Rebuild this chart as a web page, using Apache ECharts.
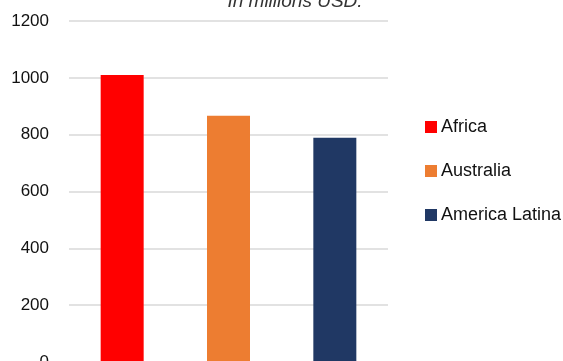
<!DOCTYPE html>
<html>
<head>
<meta charset="utf-8">
<script src="https://cdn.jsdelivr.net/npm/echarts@6/dist/echarts.min.js"></script>
<style>
html,body{margin:0;padding:0;background:#fff;}
#chart{width:563px;height:361px;}
</style>
</head>
<body>
<div id="chart"></div>
<script>
const categories = ["Africa", "Australia", "America Latina"];
const values = [1010, 867, 789];
const colors = ["#ff0000", "#ed7d31", "#203864"];
const yTicks = [0, 200, 400, 600, 800, 1000, 1200];
const titleText = "In millions USD.";

const chart = echarts.init(document.getElementById('chart'), null, {renderer: 'canvas'});
const series = categories.map((name, i) => ({
  name: name,
  type: 'bar',
  stack: 'total',
  barWidth: 43,
  itemStyle: {color: colors[i]},
  data: categories.map((c, j) => j === i ? values[i] : '-')
}));
chart.setOption({
  animation: false,
  title: {
    text: titleText,
    left: 290, top: -13,
    textAlign: 'center',
    textStyle: {fontFamily: 'Liberation Sans', fontStyle: 'italic', fontWeight: 'normal', fontSize: 19, color: '#333'}
  },
  grid: {left: 69, width: 319, top: 21, height: 341, containLabel: false, outerBoundsMode: 'none'},
  legend: {
    orient: 'vertical',
    left: 425, top: 118, padding: 0,
    itemWidth: 12, itemHeight: 12, itemGap: 26,
    icon: 'rect',
    textStyle: {fontFamily: 'Liberation Sans', fontSize: 18, color: '#111', lineHeight: 18, padding: [0,0,0,-1]},
    data: categories
  },
  xAxis: {
    type: 'category',
    data: categories,
    axisLabel: {show: false},
    axisTick: {show: false},
    axisLine: {show: false}
  },
  yAxis: {
    type: 'value',
    min: yTicks[0], max: yTicks[yTicks.length - 1], interval: 200,
    axisLabel: {fontFamily: 'Liberation Sans', fontSize: 17, color: '#111', margin: 20, formatter: v => String(v)},
    splitLine: {lineStyle: {color: '#d9d9d9', width: 1.5}},
    axisLine: {show: false}, axisTick: {show: false}
  },
  series: series
});
</script>
</body>
</html>
